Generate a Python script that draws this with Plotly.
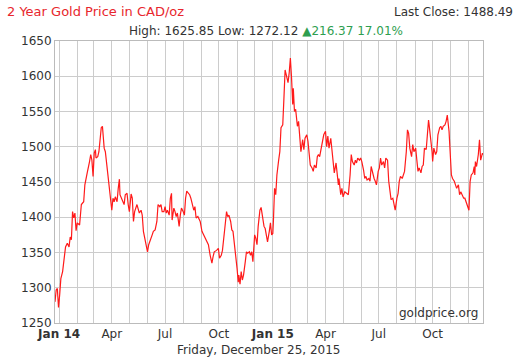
import plotly.graph_objects as go
import pandas as pd

# Day offsets from 2014-01-01 and gold price (CAD/oz)
day_offsets = [-7, -5, -3, -1, 1, 3, 6, 9, 11, 14, 17, 19, 21, 23, 25, 27, 29, 31, 35, 38,
               42, 44, 46, 48, 52, 54, 56, 58, 60, 62, 63, 66, 68, 70, 72, 74, 75, 77, 79, 82,
               84, 87, 90, 92, 94, 96, 99, 101, 103, 104, 107, 109, 111, 113, 116, 118, 120, 123, 125, 127,
               129, 133, 135, 137, 140, 142, 144, 147, 149, 151, 153, 156, 159, 161, 164, 167, 169, 172, 174, 176,
               179, 181, 183, 185, 188, 190, 192, 193, 196, 198, 200, 202, 205, 207, 209, 212, 214, 216, 218, 221,
               223, 225, 228, 230, 232, 234, 237, 239, 241, 244, 247, 250, 253, 255, 258, 261, 263, 265, 269, 272,
               274, 277, 279, 281, 283, 286, 288, 290, 293, 295, 297, 299, 302, 304, 306, 307, 309, 311, 313, 315,
               318, 320, 322, 325, 327, 329, 331, 334, 336, 338, 340, 343, 345, 347, 350, 352, 354, 356, 359, 361,
               363, 365, 366, 368, 370, 372, 375, 377, 379, 382, 384, 386, 388, 391, 393, 395, 397, 399, 400, 402,
               404, 407, 409, 411, 413, 416, 418, 420, 423, 425, 427, 429, 432, 434, 436, 439, 441, 443, 445, 448,
               450, 452, 455, 457, 459, 461, 464, 466, 468, 470, 473, 475, 477, 478, 481, 483, 485, 488, 491, 494,
               497, 499, 501, 504, 506, 508, 510, 513, 515, 517, 520, 522, 524, 526, 529, 531, 533, 536, 538, 540,
               542, 545, 547, 549, 551, 554, 556, 558, 561, 563, 565, 567, 570, 572, 574, 577, 579, 581, 583, 586,
               588, 590, 593, 595, 597, 599, 602, 604, 606, 609, 611, 613, 615, 618, 620, 622, 624, 627, 629, 631,
               632, 635, 637, 638, 640, 643, 645, 647, 650, 652, 654, 656, 659, 661, 663, 666, 668, 670, 672, 675,
               677, 679, 682, 684, 686, 688, 691, 693, 695, 697, 700, 702, 704, 707, 709, 710, 711, 713, 716, 718,
               720, 723, 724]
prices = [1280, 1297, 1299, 1272, 1290, 1313, 1323, 1342, 1358, 1363, 1358, 1372, 1368, 1408, 1399, 1406, 1381, 1392, 1389, 1418,
          1422, 1446, 1453, 1463, 1479, 1489, 1481, 1458, 1491, 1496, 1484, 1486, 1493, 1512, 1527, 1529, 1515, 1498, 1493, 1470,
          1451, 1427, 1410, 1427, 1422, 1429, 1422, 1441, 1454, 1432, 1427, 1422, 1418, 1432, 1434, 1418, 1408, 1433, 1427, 1394,
          1408, 1418, 1410, 1406, 1410, 1403, 1380, 1365, 1356, 1351, 1361, 1370, 1375, 1380, 1382, 1394, 1418, 1415, 1418, 1408,
          1408, 1415, 1406, 1410, 1403, 1427, 1434, 1396, 1413, 1408, 1401, 1406, 1387, 1403, 1413, 1408, 1403, 1427, 1437, 1434,
          1432, 1427, 1418, 1410, 1415, 1399, 1401, 1396, 1394, 1380, 1375, 1370, 1365, 1361, 1346, 1335, 1344, 1351, 1353, 1356,
          1342, 1346, 1353, 1365, 1384, 1408, 1401, 1403, 1394, 1382, 1380, 1365, 1346, 1327, 1308, 1318, 1305, 1323, 1311, 1318,
          1337, 1351, 1349, 1351, 1346, 1351, 1337, 1375, 1370, 1361, 1387, 1410, 1414, 1403, 1387, 1384, 1375, 1365, 1380, 1392,
          1375, 1377, 1394, 1441, 1432, 1460, 1481, 1493, 1527, 1531, 1569, 1609, 1602, 1591, 1605, 1625.85, 1598, 1560, 1583, 1550,
          1553, 1529, 1536, 1512, 1493, 1510, 1496, 1512, 1517, 1508, 1493, 1474, 1470, 1465, 1474, 1470, 1486, 1489, 1486, 1498,
          1508, 1517, 1522, 1500, 1515, 1498, 1512, 1498, 1479, 1463, 1477, 1460, 1446, 1455, 1432, 1441, 1429, 1436, 1434, 1432,
          1460, 1489, 1479, 1474, 1481, 1477, 1484, 1481, 1484, 1479, 1467, 1455, 1458, 1453, 1455, 1451, 1472, 1460, 1455, 1451,
          1446, 1465, 1470, 1484, 1474, 1479, 1470, 1484, 1481, 1451, 1432, 1425, 1427, 1418, 1410, 1427, 1434, 1451, 1458, 1455,
          1460, 1465, 1493, 1524, 1519, 1498, 1486, 1503, 1493, 1498, 1481, 1465, 1470, 1463, 1472, 1474, 1498, 1496, 1517, 1538,
          1531, 1512, 1493, 1479, 1498, 1489, 1493, 1517, 1527, 1529, 1524, 1529, 1531, 1536, 1545, 1522, 1493, 1460, 1455, 1451,
          1446, 1441, 1446, 1432, 1436, 1432, 1427, 1427, 1422, 1418, 1410, 1451, 1460, 1463, 1472, 1460, 1479, 1472, 1489, 1510,
          1481, 1491, 1488.49]

month_ticks = pd.date_range("2014-01-01", "2015-12-01", freq="MS")
tick_labels = ["<b>Jan 14</b>", "", "", "Apr", "", "", "Jul", "", "", "Oct", "", "",
               "<b>Jan 15</b>", "", "", "Apr", "", "", "Jul", "", "", "Oct", "", ""]
y_ticks = [1250, 1300, 1350, 1400, 1450, 1500, 1550, 1600, 1650]

dates = pd.Timestamp("2014-01-01") + pd.to_timedelta(day_offsets, unit="D")

FONT = "DejaVu Sans, Verdana, sans-serif"
TXT = "#333333"

fig = go.Figure()
fig.add_trace(go.Scatter(x=dates, y=prices, mode="lines",
                         line=dict(color="#ff1a1a", width=1.2), hoverinfo="x+y"))

L, R, T, B = 55, 40, 41, 39
W, H = 523, 362
pw, ph = W - L - R, H - T - B

def px(x):
    return (x - L) / pw

def py(y):
    return (H - B - y) / ph

fig.update_layout(
    width=W, height=H,
    margin=dict(l=L, r=R, t=T, b=B),
    paper_bgcolor="white", plot_bgcolor="white",
    showlegend=False,
    font=dict(family=FONT, size=12, color=TXT),
    xaxis=dict(
        range=["2013-12-25", "2015-12-26"],
        tickvals=month_ticks, ticktext=tick_labels,
        showgrid=True, gridcolor="#cccccc", gridwidth=1,
        showline=True, linecolor="#bbbbbb", mirror=True,
        ticks="", ticklabelstandoff=0,
        tickfont=dict(family=FONT, size=12, color=TXT),
        zeroline=False,
    ),
    yaxis=dict(
        range=[1250, 1650], tickvals=y_ticks,
        showgrid=True, gridcolor="#cccccc", gridwidth=1,
        showline=True, linecolor="#bbbbbb", mirror=True,
        ticks="", tickfont=dict(family=FONT, size=12, color=TXT),
        zeroline=False,
    ),
    annotations=[
        dict(text="2 Year Gold Price in CAD/oz", x=px(5), y=py(12), xref="paper", yref="paper",
             xanchor="left", yanchor="middle", showarrow=False,
             font=dict(family=FONT, size=13, color="#e8262d")),
        dict(text="Last Close: 1488.49", x=px(515), y=py(12), xref="paper", yref="paper",
             xanchor="right", yanchor="middle", showarrow=False,
             font=dict(family=FONT, size=12, color=TXT)),
        dict(text="High: 1625.85 Low: 1272.12 <span style='color:#2e9e4f'>▲216.37 17.01%</span>",
             x=px(266), y=py(31), xref="paper", yref="paper",
             xanchor="center", yanchor="middle", showarrow=False,
             font=dict(family=FONT, size=12, color=TXT)),
        dict(text="goldprice.org", x=px(480), y=py(313), xref="paper", yref="paper",
             xanchor="right", yanchor="middle", showarrow=False,
             font=dict(family=FONT, size=12, color=TXT)),
        dict(text="Friday, December 25, 2015", x=px(258), y=py(350), xref="paper", yref="paper",
             xanchor="center", yanchor="middle", showarrow=False,
             font=dict(family=FONT, size=12, color=TXT)),
    ],
)

fig.write_html("out.html", config={"displayModeBar": False},
               post_script="document.body.style.margin='0px';")
